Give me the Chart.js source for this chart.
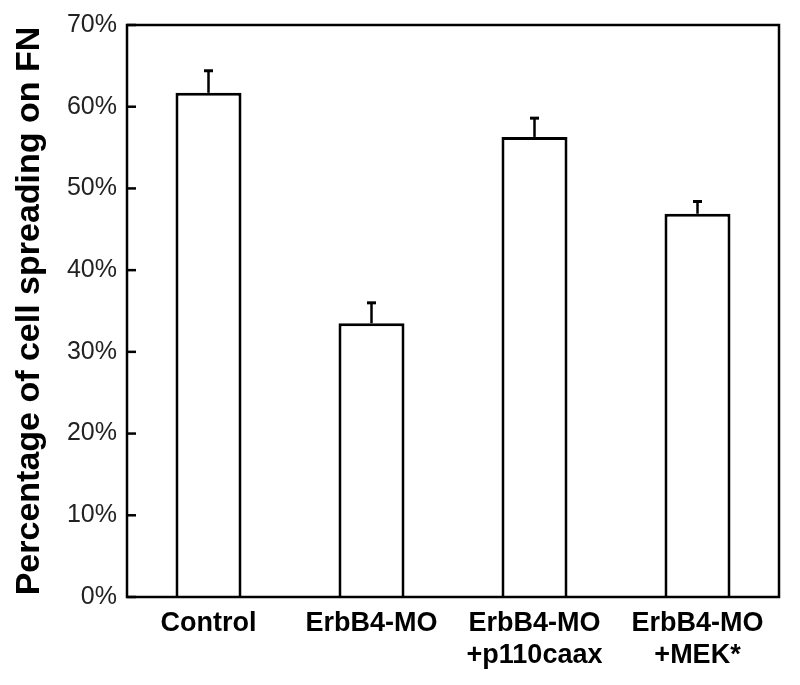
<!DOCTYPE html>
<html>
<head>
<meta charset="utf-8">
<script src="https://cdn.jsdelivr.net/npm/chart.js@4.4.0/dist/chart.umd.min.js"></script>
<style>
  html, body { margin: 0; padding: 0; background: #fff; }
  #wrap { width: 800px; height: 685px; }
</style>
</head>
<body>
<div id="wrap"><canvas id="c" width="800" height="685"></canvas></div>
<script>
const categories = [["Control"], ["ErbB4-MO"], ["ErbB4-MO", "+p110caax"], ["ErbB4-MO", "+MEK*"]];
const values = [61.7, 33.5, 56.3, 46.9];
const errors = [2.7, 2.5, 2.3, 1.5];
const yTicks = [0, 10, 20, 30, 40, 50, 60, 70];
const yTitle = "Percentage of cell spreading on FN";

const FONT = "'Liberation Sans', Arial, Helvetica, sans-serif";

const framePlugin = {
  id: 'frameAndErrors',
  afterDatasetsDraw(chart) {
    const ctx = chart.ctx;
    const a = chart.chartArea;
    const y = chart.scales.y;
    const meta = chart.getDatasetMeta(0);
    ctx.save();
    // error bars (upper only)
    ctx.strokeStyle = '#000';
    meta.data.forEach((bar, i) => {
      const x = bar.x;
      const yTop = y.getPixelForValue(values[i]);
      const yErr = y.getPixelForValue(values[i] + errors[i]);
      ctx.lineWidth = 2.5;
      ctx.beginPath();
      ctx.moveTo(x, yTop);
      ctx.lineTo(x, yErr);
      ctx.stroke();
      ctx.lineWidth = 3;
      ctx.beginPath();
      ctx.moveTo(x - 4.5, yErr);
      ctx.lineTo(x + 4.5, yErr);
      ctx.stroke();
    });
    // inward ticks on left axis
    ctx.lineWidth = 2.5;
    yTicks.forEach(v => {
      const py = y.getPixelForValue(v);
      ctx.beginPath();
      ctx.moveTo(a.left, py);
      ctx.lineTo(a.left + 9, py);
      ctx.stroke();
    });
    // frame
    ctx.lineWidth = 2.5;
    ctx.strokeRect(a.left, a.top, a.right - a.left, a.bottom - a.top);
    ctx.restore();
  }
};

new Chart(document.getElementById('c'), {
  type: 'bar',
  data: {
    labels: categories,
    datasets: [{
      data: values,
      backgroundColor: '#ffffff',
      borderColor: '#000000',
      borderWidth: 3,
      categoryPercentage: 1.0,
      barPercentage: 0.405
    }]
  },
  options: {
    responsive: false,
    animation: false,
    devicePixelRatio: 1,
    layout: { padding: { top: 22, right: 21, bottom: 0, left: 0 } },
    plugins: {
      legend: { display: false },
      tooltip: { enabled: false },
      title: { display: false }
    },
    scales: {
      x: {
        grid: { display: false, drawTicks: false },
        border: { display: false },
        ticks: {
          color: '#000',
          font: { family: FONT, size: 27, weight: 'bold', lineHeight: 1.2 },
          padding: 10,
          maxRotation: 0,
          autoSkip: false
        },
        afterFit(scale) { scale.height = 88; }
      },
      y: {
        min: 0,
        max: 70,
        afterBuildTicks(scale) { scale.ticks = yTicks.map(v => ({ value: v })); },
        grid: { display: false, drawTicks: false },
        border: { display: false },
        ticks: {
          color: '#222',
          font: { family: FONT, size: 25 },
          padding: 10,
          callback: v => v + '%'
        },
        title: {
          display: true,
          text: yTitle,
          color: '#000',
          font: { family: FONT, size: 34, weight: 'bold' },
          padding: { top: 9, bottom: 0 }
        },
        afterFit(scale) { scale.width = 127; }
      }
    }
  },
  plugins: [framePlugin]
});
</script>
</body>
</html>
